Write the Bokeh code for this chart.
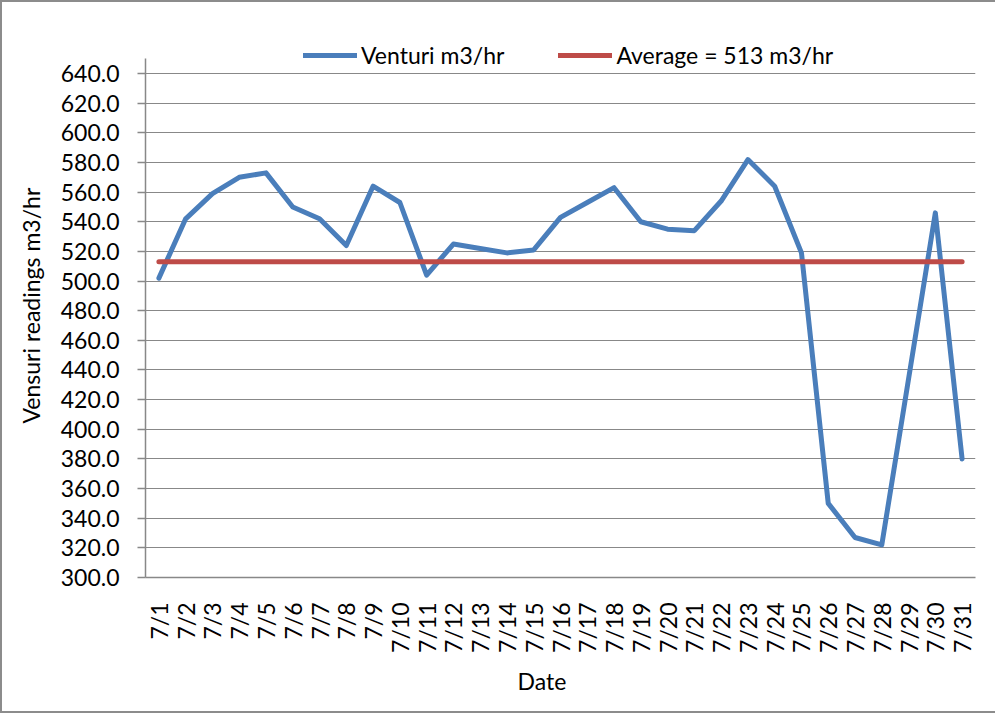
import math
from bokeh.plotting import figure
from bokeh.models import Legend, LegendItem, Title, FixedTicker, Range1d, CustomJSTickFormatter
from bokeh.embed import file_html
from bokeh.resources import INLINE

dates = [f"7/{d}" for d in range(1, 32)]
venturi = [502, 542, 559, 570, 573, 550, 542, 524, 564, 553,
           504, 525, 522, 519, 521, 543, 553, 563, 540, 535,
           534, 554, 582, 564, 519, 350, 327, 322, 434, 546, 380]
average = 513
y_ticks = list(range(300, 641, 20))

FONT = "Lato"
FS = "23px"
GRID = "#888888"

p = figure(x_range=dates, y_range=Range1d(300, 665),
           frame_width=830, frame_height=541,
           min_border_left=143, min_border_right=20,
           min_border_top=34, min_border_bottom=134,
           output_backend="svg", toolbar_location=None,
           background_fill_color="white", border_fill_color="white")
p.styles = {"border-left": "2px solid #8c8c8c", "border-top": "2px solid #8c8c8c",
            "border-bottom": "2px solid #8c8c8c"}
p.outline_line_color = None

r1 = p.line(dates, venturi, line_color="#4A7EBB", line_width=5,
            line_cap="round", line_join="round")
r2 = p.line(dates, [average] * len(dates), line_color="#BE4B48", line_width=5,
            line_cap="round")

p.xgrid.grid_line_color = None
p.ygrid.grid_line_color = GRID
p.ygrid.grid_line_width = 1.2
p.yaxis.ticker = FixedTicker(ticks=y_ticks)
p.ygrid.ticker = FixedTicker(ticks=y_ticks)
p.yaxis.formatter = CustomJSTickFormatter(code="return tick.toFixed(1);")
p.yaxis.bounds = (300, 650)

for ax in (p.xaxis[0], p.yaxis[0]):
    ax.axis_line_color = GRID
    ax.axis_line_width = 1.5
    ax.major_label_text_font = FONT
    ax.major_label_text_font_size = FS
    ax.major_label_text_color = "black"
    ax.minor_tick_line_color = None

p.yaxis.major_tick_line_color = GRID
p.yaxis.major_tick_line_width = 1.5
p.yaxis.major_tick_out = 8
p.yaxis.major_tick_in = 0
p.yaxis.major_label_standoff = 18

p.xaxis.major_tick_line_color = None
p.xaxis.major_label_orientation = math.pi / 2
p.xaxis.major_label_standoff = 19

p.add_layout(Title(text="Vensuri readings m3/hr", align="left", offset=154,
                   standoff=24, vertical_align="middle",
                   text_font=FONT, text_font_size=FS,
                   text_font_style="normal", text_color="black"), "left")
p.add_layout(Title(text="Date", align="left", offset=372, standoff=19,
                   text_font=FONT, text_font_size=FS,
                   text_font_style="normal", text_color="black"), "below")

legend = Legend(items=[LegendItem(label="Venturi m3/hr", renderers=[r1]),
                       LegendItem(label="Average = 513 m3/hr", renderers=[r2])],
                orientation="horizontal", location=(158, 508),
                glyph_width=54, glyph_height=26, label_standoff=4, spacing=54,
                padding=0, margin=0, border_line_color=None,
                background_fill_alpha=0,
                label_text_font=FONT, label_text_font_size=FS,
                label_text_color="black")
p.add_layout(legend)

open("out.html", "w").write(file_html(p, INLINE))
